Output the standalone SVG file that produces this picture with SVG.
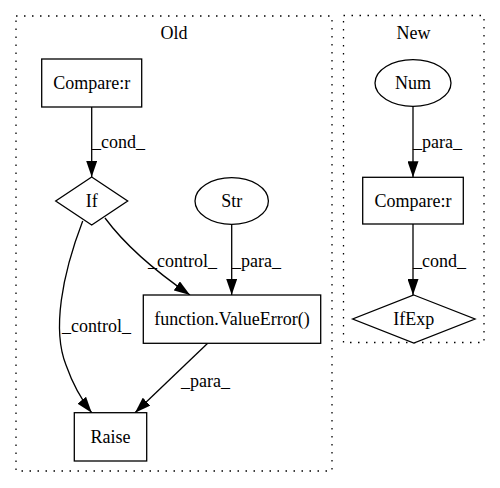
<svg xmlns="http://www.w3.org/2000/svg" width="500" height="488" viewBox="0 0 500 488">
<defs>
<style>
.cl{fill:none;stroke:#000;stroke-width:1.3;stroke-dasharray:1.5,6.5}
.n{fill:#fff;stroke:#000;stroke-width:1.3}
.m{text-anchor:middle}
.e{fill:none;stroke:#000;stroke-width:1.3;marker-end:url(#ah)}
</style>
<marker id="ah" markerUnits="userSpaceOnUse" markerWidth="16" markerHeight="11" refX="16" refY="5.5" orient="auto">
<path d="M0,0 L16,5.5 L0,11 z" fill="#000"/>
</marker>
</defs>
<rect width="500" height="488" fill="#fff"/>
<g font-family="'Liberation Serif', 'DejaVu Serif', serif" font-size="18" fill="#000">
<g id="cluster_old">
<rect class="cl" x="16" y="16" width="316" height="455"/>
<text class="m" x="174" y="39">Old</text>
</g>
<g id="cluster_new">
<rect class="cl" x="343.5" y="15.5" width="140.5" height="327"/>
<text class="m" x="413.5" y="39">New</text>
</g>
<g id="connectors">
<path class="e" d="M91.7,107 L91.7,177"/>
<text x="92" y="148">_cond_</text>
<path class="e" d="M105,218 C125,245 158,273 190,295"/>
<text x="148" y="267">_control_</text>
<path class="e" d="M231.7,224.3 L231.7,295"/>
<text x="232" y="267">_para_</text>
<path class="e" d="M82.7,221 C62,275 52,330 66,365 C72,382 80,398 91.7,412.7"/>
<text x="62" y="332">_control_</text>
<path class="e" d="M207.7,343.3 L135,412.7"/>
<text x="181" y="387">_para_</text>
<path class="e" d="M413,106.3 L413,177.3"/>
<text x="413" y="148">_para_</text>
<path class="e" d="M413,224 L413,295"/>
<text x="413" y="267">_cond_</text>
</g>
<g id="node_compare_old">
<rect class="n" x="41.7" y="59" width="100" height="48"/>
<text class="m" x="91.7" y="89">Compare:r</text>
</g>
<g id="node_if">
<polygon class="n" points="91.7,177 127.7,201 91.7,225 55.7,201"/>
<text class="m" x="91.7" y="207">If</text>
</g>
<g id="node_str">
<ellipse class="n" cx="231.7" cy="201" rx="36.7" ry="23.3"/>
<text class="m" x="231.7" y="207">Str</text>
</g>
<g id="node_valueerror">
<rect class="n" x="143.3" y="295" width="177.4" height="48.3"/>
<text class="m" x="232" y="325">function.ValueError()</text>
</g>
<g id="node_raise">
<rect class="n" x="74.3" y="412.7" width="72.4" height="48.3"/>
<text class="m" x="110.5" y="443">Raise</text>
</g>
<g id="node_num">
<ellipse class="n" cx="413" cy="83" rx="38" ry="23.3"/>
<text class="m" x="413" y="89">Num</text>
</g>
<g id="node_compare_new">
<rect class="n" x="362.7" y="177.3" width="100.6" height="46.7"/>
<text class="m" x="413" y="207">Compare:r</text>
</g>
<g id="node_ifexp">
<polygon class="n" points="413.8,295 475,319 413.8,343 352.7,319"/>
<text class="m" x="413.8" y="325">IfExp</text>
</g>
</g>
</svg>
